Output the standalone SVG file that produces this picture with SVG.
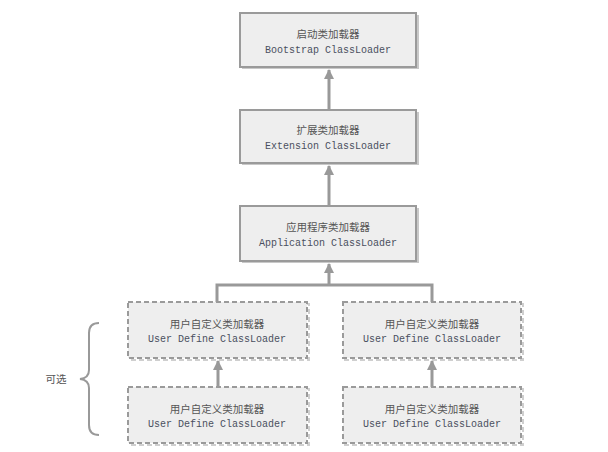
<svg xmlns="http://www.w3.org/2000/svg" width="608" height="452" viewBox="0 0 608 452">
<style>
.box{fill:#eeeeee;stroke:#9a9a9a;stroke-width:2}
.dash{fill:#eeeeee;stroke:#9a9a9a;stroke-width:2;stroke-dasharray:5 3}
.shadow{fill:#c8c8c8}
.dshadow{fill:none;stroke:#cfcfcf;stroke-width:2;stroke-dasharray:5 3}
.cn{font-family:"Noto Sans CJK SC","Noto Sans",sans-serif;font-size:10.5px;fill:#555;text-anchor:middle}
.en{font-family:"Liberation Mono",monospace;font-size:10px;fill:#4a5060;text-anchor:middle}
.line{stroke:#999;stroke-width:3;fill:none}
</style>
<defs>
<marker id="arr" viewBox="0 0 10 10" refX="9" refY="5" markerWidth="3.5" markerHeight="3.5" orient="auto" markerUnits="strokeWidth">
<path d="M0,0 L10,5 L0,10 z" fill="#999"/>
</marker>
</defs>
<rect width="608" height="452" fill="#ffffff"/>
<g id="connectors">
<line class="line" x1="329" y1="110" x2="329" y2="70" marker-end="url(#arr)"/>
<line class="line" x1="329" y1="206" x2="329" y2="166" marker-end="url(#arr)"/>
<line class="line" x1="329" y1="285" x2="329" y2="264" marker-end="url(#arr)"/>
<polyline class="line" points="217,302 217,285 432,285 432,302"/>
<line class="line" x1="218" y1="387" x2="218" y2="361" marker-end="url(#arr)"/>
<line class="line" x1="432" y1="387" x2="432" y2="361" marker-end="url(#arr)"/>
</g>
<g id="bootstrap">
<rect class="shadow" x="242" y="15" width="177" height="54"/>
<rect class="box" x="240" y="13" width="176" height="54"/>
<text class="cn" x="328" y="38">启动类加载器</text>
<text class="en" x="328" y="53">Bootstrap ClassLoader</text>
</g>
<g id="extension">
<rect class="shadow" x="242" y="112" width="177" height="53"/>
<rect class="box" x="240" y="110" width="176" height="53"/>
<text class="cn" x="328" y="134">扩展类加载器</text>
<text class="en" x="328" y="149">Extension ClassLoader</text>
</g>
<g id="application">
<rect class="shadow" x="242" y="208" width="177" height="55"/>
<rect class="box" x="240" y="206" width="176" height="55"/>
<text class="cn" x="328" y="231">应用程序类加载器</text>
<text class="en" x="328" y="246">Application ClassLoader</text>
</g>
<g id="user1">
<rect class="dshadow" x="130" y="304" width="179" height="56"/>
<rect class="dash" x="128" y="302" width="179" height="56"/>
<text class="cn" x="217" y="328">用户自定义类加载器</text>
<text class="en" x="217" y="342">User Define ClassLoader</text>
</g>
<g id="user2">
<rect class="dshadow" x="345" y="304" width="178" height="56"/>
<rect class="dash" x="343" y="302" width="178" height="56"/>
<text class="cn" x="432" y="328">用户自定义类加载器</text>
<text class="en" x="432" y="342">User Define ClassLoader</text>
</g>
<g id="user3">
<rect class="dshadow" x="130" y="389" width="179" height="56"/>
<rect class="dash" x="128" y="387" width="179" height="56"/>
<text class="cn" x="217" y="413">用户自定义类加载器</text>
<text class="en" x="217" y="427">User Define ClassLoader</text>
</g>
<g id="user4">
<rect class="dshadow" x="345" y="389" width="178" height="56"/>
<rect class="dash" x="343" y="387" width="178" height="56"/>
<text class="cn" x="432" y="413">用户自定义类加载器</text>
<text class="en" x="432" y="427">User Define ClassLoader</text>
</g>
<g id="optional">
<path d="M99,323 Q89,323 89,333 L89,370 Q89,378 80,379 Q89,380 89,388 L89,425 Q89,435 99,435" fill="none" stroke="#999" stroke-width="2"/>
<text class="cn" x="56" y="383">可选</text>
</g>
</svg>
